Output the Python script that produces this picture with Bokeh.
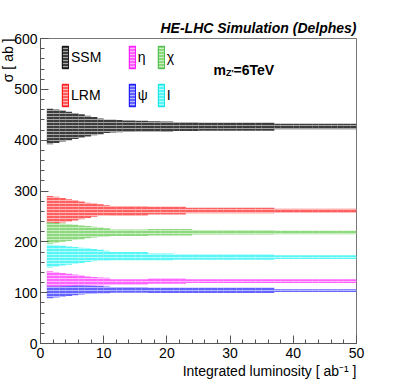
from bokeh.plotting import figure
from bokeh.models import (ColumnDataSource, Legend, LegendItem, Label, Title,
                          SingleIntervalTicker, Range1d)
from bokeh.embed import file_html
from bokeh.resources import INLINE

# Integrated luminosity bins (left edge, ab^-1)
lumi = [1, 2, 3, 4, 5, 6, 7, 8, 9, 10, 11, 12, 13, 14, 15, 16, 17, 18, 19, 20,
        21, 22, 23, 24, 25, 26, 27, 28, 29, 30, 31, 32, 33, 34, 35, 36, 37, 38,
        39, 40, 41, 42, 43, 44, 45, 46, 47, 48, 49]

# central cross sections [ab] and half-widths of the uncertainty bands
ssm_c = [427, 427.5, 428, 428, 428, 428, 427.5, 427.5, 427, 427,
         427.5, 427.5, 427.5, 427.5, 427.5, 427.5, 427, 427, 426.5, 426.5,
         426.5, 426.5, 426.5, 426.5, 426.5, 426.5, 426.5, 426.5, 426.5, 426.5,
         426.5, 426.5, 426.5, 426.5, 426.5, 426.5, 427, 427, 427, 427,
         427, 427, 427, 427, 427, 427, 427, 427, 427]
ssm_e = [35, 33, 30.5, 28, 25.5, 23, 20.5, 18, 15.5, 13,
         12.5, 12, 11, 11, 10.5, 10.5, 10, 10, 10, 10,
         8.5, 8.5, 8.5, 8.5, 8, 8, 8, 8, 8, 8,
         8, 8, 8, 8, 8, 8, 5.5, 5.5, 5.5, 5.5,
         5.5, 5.5, 5.5, 5.5, 5.5, 5.5, 5.5, 5.5, 5.5]

lrm_c = [262.5, 262.5, 262, 262, 262, 262, 262, 262.5, 263, 262,
         261, 261, 261, 261, 261, 261, 261.5, 261.5, 261.5, 261.5,
         261.5, 261.5, 261.5, 261.5, 261.5, 261.5, 261.5, 261.5, 261.5, 261.5,
         261.5, 261.5, 261.5, 261.5, 261.5, 261.5, 261, 261, 261, 261,
         261, 261, 261, 261, 261, 261, 261, 261, 261]
lrm_e = [27.5, 26, 24, 22, 20, 17.5, 15, 13, 11, 10,
         9.5, 9.5, 9.5, 9.5, 9.5, 9.5, 7.5, 7.5, 7.5, 7.5,
         7.5, 7.5, 5.5, 5.5, 5.5, 5.5, 5.5, 5.5, 5.5, 5.5,
         5.5, 5.5, 5.5, 5.5, 5.5, 5.5, 4, 4, 4, 4,
         4, 4, 4, 4, 4, 4, 4, 4, 4]

chi_c = [217, 217.5, 218, 218, 218.5, 218.5, 219, 219, 219, 218.5,
         218, 218, 218, 218, 218, 218, 218.8, 218.8, 218.8, 218.8,
         218.8, 218.8, 218.8, 218.8, 218.8, 218.8, 218.8, 218.8, 218.8, 218.8,
         218.8, 218.8, 218.8, 218.8, 218.8, 218.8, 218.4, 218.4, 218.4, 218.4,
         218.4, 218.4, 218.4, 218.4, 218.4, 218.4, 218.4, 218.4, 218.4]
chi_e = [21, 19.5, 18, 16.5, 15, 13.5, 12, 10.5, 9, 8,
         6.5, 6.5, 6.5, 6.5, 6.5, 6.5, 6.3, 6.3, 6.3, 6.3,
         6.3, 6.3, 6.3, 4.3, 4.3, 4.3, 4.3, 4.3, 4.3, 4.3,
         4.3, 4.3, 4.3, 4.3, 4.3, 4.3, 3.3, 3.3, 3.3, 3.3,
         3.3, 3.3, 3.3, 3.3, 3.3, 3.3, 3.3, 3.3, 3.3]

i_c = [172, 172.5, 173, 173, 173.5, 173.5, 174, 174, 174, 173,
       172, 172, 172, 172, 172, 172, 170.4, 170.4, 170.4, 170.4,
       170, 170, 170, 170, 170, 170, 170, 170, 170, 170,
       170, 170, 170, 170, 170, 170, 170, 170, 170, 170,
       170, 170, 170, 170, 170, 170, 170, 170, 170]
i_e = [22.5, 21, 19.5, 18, 16.5, 15, 13.5, 12, 10.5, 9.5,
       8, 8, 8, 8, 8, 8, 6.6, 6.6, 6.6, 6.6,
       5, 5, 5, 5, 5, 5, 5, 5, 5, 5,
       5, 5, 5, 5, 5, 5, 3.7, 3.7, 3.7, 3.7,
       3.7, 3.7, 3.7, 3.7, 3.7, 3.7, 3.7, 3.7, 3.7]

eta_c = [127, 126, 125.5, 125, 124.5, 124, 123, 122.5, 122, 122,
         121, 121, 121, 121, 121, 121, 122.7, 122.7, 122.7, 122.7,
         122.7, 122.7, 122.7, 122.7, 122.7, 122.7, 122.7, 122.7, 122.7, 122.7,
         122.7, 122.7, 122.7, 122.7, 122.7, 122.7, 122.7, 122.7, 122.7, 122.7,
         122.7, 122.7, 122.7, 122.7, 122.7, 122.7, 122.7, 122.7, 122.7]
eta_e = [15, 14, 13, 12, 11, 10, 9, 8.5, 8, 7.5,
         5.5, 5.5, 5.5, 5.5, 5.5, 5.5, 5, 5, 5, 5,
         5, 5, 3.7, 3.7, 3.7, 3.7, 3.7, 3.7, 3.7, 3.7,
         3.7, 3.7, 3.7, 3.7, 3.7, 3.7, 3.7, 3.7, 3.7, 3.7,
         3.7, 3.7, 3.7, 3.7, 3.7, 3.7, 3.7, 3.7, 3.7]

psi_c = [103, 103.5, 104, 104.5, 105, 105.5, 106, 106, 106, 105.5,
         105.5, 105.5, 105.5, 105.5, 105.5, 105.5, 104.6, 104.6, 104.6, 104.6,
         104.6, 104.6, 104.6, 104.6, 104.6, 104.6, 104.6, 104.6, 104.6, 104.6,
         104.6, 104.6, 104.6, 104.6, 104.6, 104.6, 104, 104, 104, 104,
         104, 104, 104, 104, 104, 104, 104, 104, 104]
psi_e = [14, 13, 12, 11, 10, 9, 8, 7.5, 7, 6.5,
         5.5, 5.5, 5.5, 5.5, 5.5, 5.5, 5.3, 5.3, 5.3, 5.3,
         5.3, 5.3, 5.3, 5.3, 5.3, 5.3, 5.3, 5.3, 5.3, 5.3,
         5.3, 5.3, 5.3, 5.3, 5.3, 5.3, 2.7, 2.7, 2.7, 2.7,
         2.7, 2.7, 2.7, 2.7, 2.7, 2.7, 2.7, 2.7, 2.7]

names = ["SSM", "\u03b7", "\u03c7", "LRM", "\u03c8", "I"]
centers = [ssm_c, eta_c, chi_c, lrm_c, psi_c, i_c]
errors = [ssm_e, eta_e, chi_e, lrm_e, psi_e, i_e]
fills = ["#3c3c3c", "#ff62ff", "#8cd87c", "#ff5e5e", "#6262ff", "#56f6f6"]
edges = ["#000000", "#ff00ff", "#3cb43c", "#ff0000", "#0000ff", "#00e0e0"]
draw_order = [0, 3, 2, 5, 4, 1]  # eta drawn last (over psi)

FONT = "Liberation Sans"

p = figure(width=399, height=383, output_backend="svg", toolbar_location=None,
           x_range=Range1d(0, 50), y_range=Range1d(0, 600),
           min_border_left=40, min_border_right=43,
           min_border_top=38, min_border_bottom=40)
p.background_fill_color = "white"
p.border_fill_color = "white"
p.outline_line_color = "#777777"
p.outline_line_width = 1
p.xgrid.visible = False
p.ygrid.visible = False

hatch_kw = dict(hatch_pattern="horizontal_line", hatch_color="white",
                hatch_scale=3, hatch_weight=1, hatch_alpha=0.55)

sources = {}
for k in draw_order:
    src = ColumnDataSource(dict(
        left=lumi,
        right=[v + 1 for v in lumi],
        bottom=[c - e for c, e in zip(centers[k], errors[k])],
        top=[c + e for c, e in zip(centers[k], errors[k])],
    ))
    sources[k] = src
    p.quad(left="left", right="right", bottom="bottom", top="top", source=src,
           fill_color=fills[k], fill_alpha=1.0, line_color=None, **hatch_kw)

# legend proxies (boxed, hatched) -- hidden renderers sharing the band data
proxies = []
for k in range(6):
    r = p.quad(left="left", right="right", bottom="bottom", top="top",
               source=sources[k], fill_color=fills[k], line_color=edges[k],
               line_width=1, visible=False, **hatch_kw)
    proxies.append(r)

legend_cols = [(0, 3, 21), (1, 4, 87.7), (2, 5, 116.7)]
for a, b, xoff in legend_cols:
    lg = Legend(items=[LegendItem(label=names[a], renderers=[proxies[a]], index=0),
                       LegendItem(label=names[b], renderers=[proxies[b]], index=0)],
                location=(xoff, 234), orientation="vertical",
                glyph_width=8, glyph_height=28, spacing=10, padding=0, margin=0,
                label_standoff=2, label_text_font=FONT, label_text_font_size="14px",
                label_text_color="black", border_line_color=None,
                background_fill_alpha=0, label_height=28,
                inactive_fill_alpha=0)
    p.add_layout(lg, "center")

# axes, ROOT style with inward ticks
p.xaxis.ticker = SingleIntervalTicker(interval=10, num_minor_ticks=5)
p.yaxis.ticker = SingleIntervalTicker(interval=100, num_minor_ticks=5)
for ax in (p.xaxis[0], p.yaxis[0]):
    ax.major_tick_in = 8
    ax.major_tick_out = 0
    ax.minor_tick_in = 4
    ax.minor_tick_out = 0
    ax.axis_line_color = "#555555"
    ax.major_tick_line_color = "#555555"
    ax.minor_tick_line_color = "#555555"
    ax.major_label_text_font = FONT
    ax.major_label_text_font_size = "14px"
    ax.major_label_text_color = "black"
p.xaxis.major_label_standoff = 4
p.yaxis.major_label_standoff = 3

# titles in the side panels
p.add_layout(Title(text="HE-LHC Simulation (Delphes)", align="right",
                   text_font=FONT, text_font_style="bold italic",
                   text_font_size="14px", text_color="black",
                   standoff=6, offset=0), "above")
p.add_layout(Title(text="Integrated luminosity [ ab\u207b\u00b9 ]", align="right",
                   text_font=FONT, text_font_style="normal",
                   text_font_size="14px", text_color="black",
                   standoff=0, offset=0), "below")
p.add_layout(Title(text="\u03c3 [ ab ]", align="right",
                   text_font=FONT, text_font_style="normal",
                   text_font_size="14px", text_color="black",
                   standoff=-8, offset=0), "left")

# m_Z' = 6 TeV inside the frame
p.add_layout(Label(x=173, y=274, x_units="screen", y_units="screen",
                   text="m", text_align="left", text_baseline="alphabetic",
                   text_font=FONT, text_font_style="bold", text_font_size="14px",
                   text_color="black"))
p.add_layout(Label(x=185.5, y=271, x_units="screen", y_units="screen",
                   text="Z'", text_align="left", text_baseline="alphabetic",
                   text_font=FONT, text_font_style="bold", text_font_size="9px",
                   text_color="black"))
p.add_layout(Label(x=193, y=274, x_units="screen", y_units="screen",
                   text="=6TeV", text_align="left", text_baseline="alphabetic",
                   text_font=FONT, text_font_style="bold", text_font_size="14px",
                   text_color="black"))

open("out.html", "w").write(file_html(p, INLINE))
